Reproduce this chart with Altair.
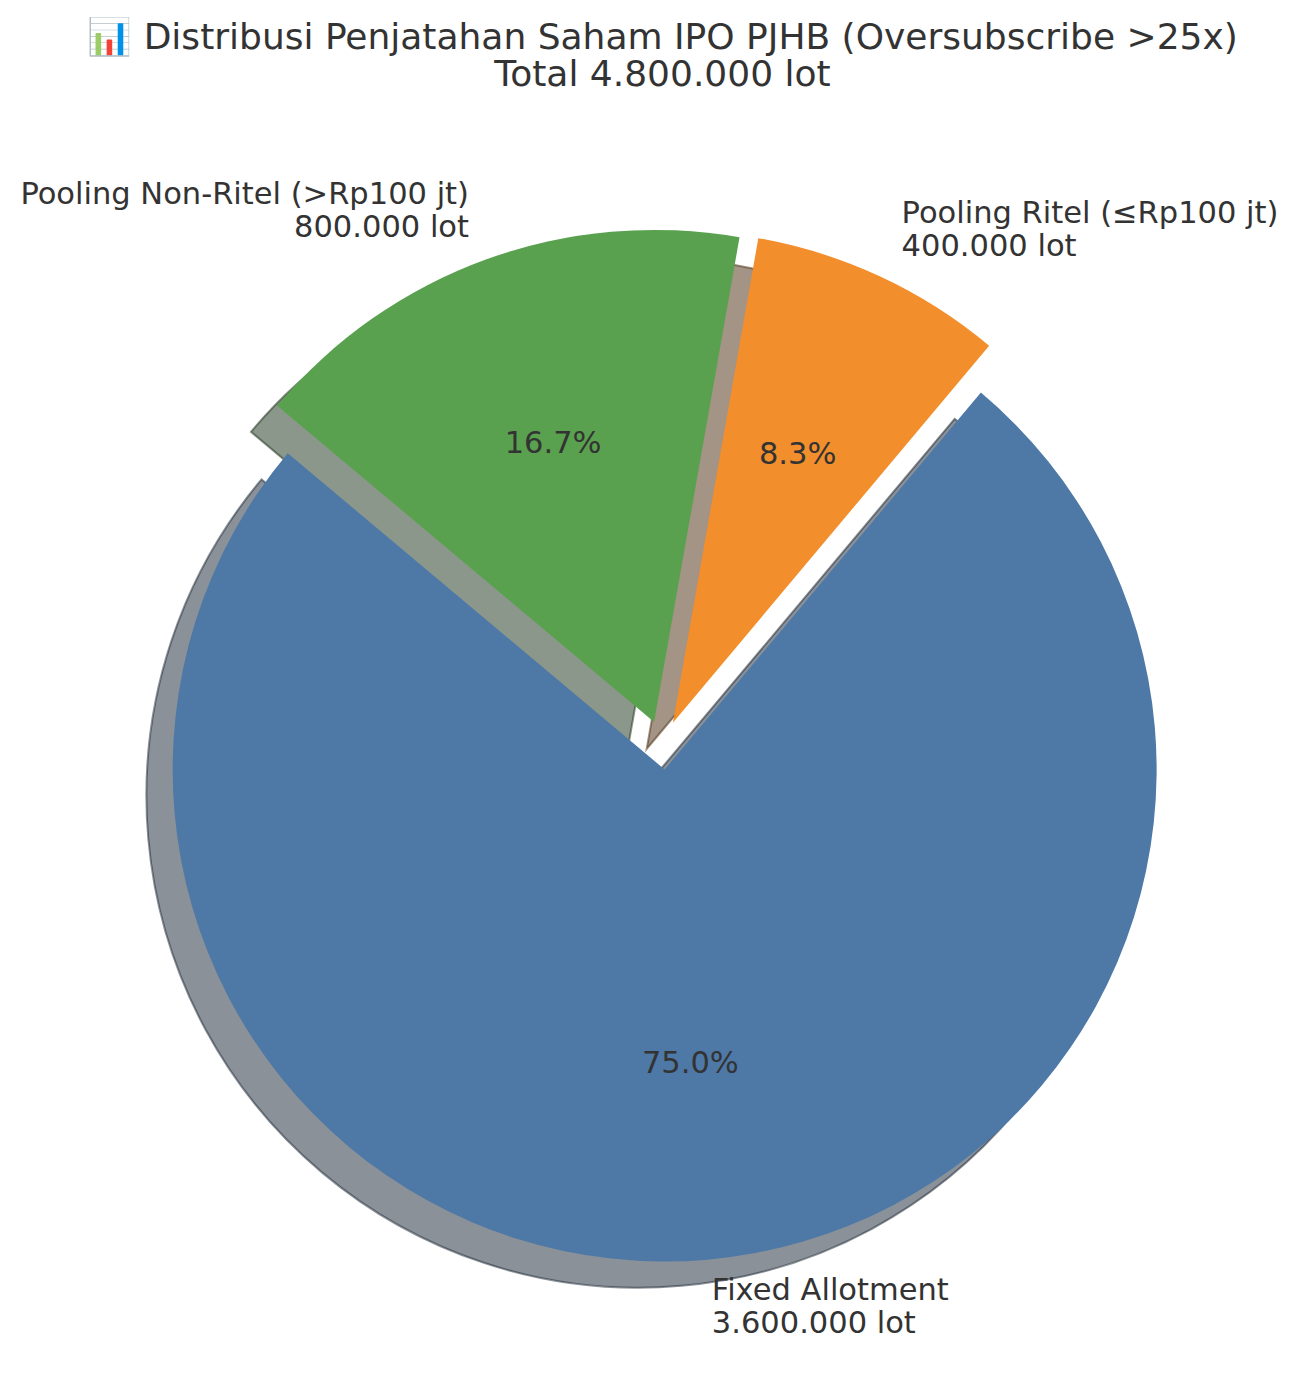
import altair as alt
import pandas as pd

# ---- data ----
categories = ["Fixed Allotment", "Pooling Ritel (≤Rp100 jt)", "Pooling Non-Ritel (>Rp100 jt)"]
lots = [3600000, 400000, 800000]
lot_labels = ["3.600.000 lot", "400.000 lot", "800.000 lot"]
colors = ["#4e79a7", "#f28e2b", "#59a14f"]
explode = [0.05, 0.05, 0.05]
title_lines = ["📊 Distribusi Penjatahan Saham IPO PJHB (Oversubscribe >25x)",
               "Total 4.800.000 lot"]

# ---- layout / style ----
W, H = 1282, 1364          # plot area (autosize none, padding 0)
CX, CY, R = 654.5, 737.0, 492.0   # pie centre (px) and radius (px)
START_ANGLE = 140          # degrees, counter-clockwise from 3 o'clock
LABEL_DIST = 1.1
PCT_DIST = 0.6
SHADOW_OFF = -0.0533       # shadow shift (radius units), left & down
FONT = "DejaVu Sans"
TXT = "#333333"
LABEL_SIZE = 30.5
TITLE_SIZE = 36


def shade(hexcol, k=0.3):
    r, g, b = (int(hexcol[i:i + 2], 16) for i in (1, 3, 5))
    return "#%02x%02x%02x" % (int(r * k), int(g * k), int(b * k))


shadow_colors = [shade(c) for c in colors]

df = pd.DataFrame({
    "cat": categories,
    "lots": lots,
    "lot_label": lot_labels,
    "color": colors,
    "shadow": shadow_colors,
    "explode": explode,
    "order": list(range(len(categories))),
})

x_scale = alt.Scale(domain=[-CX / R, (W - CX) / R], nice=False, zero=False)
y_scale = alt.Scale(domain=[-(H - CY) / R, CY / R], nice=False, zero=False)

base = (
    alt.Chart(df)
    .transform_joinaggregate(total="sum(lots)")
    .transform_window(cum="sum(lots)", sort=[alt.SortField("order")])
    .transform_calculate(a0=f"{START_ANGLE} + 360*(datum.cum - datum.lots)/datum.total")
    .transform_calculate(a1=f"{START_ANGLE} + 360*datum.cum/datum.total")
    .transform_calculate(am="(datum.a0 + datum.a1)/2 * PI/180")
    .transform_calculate(t0="(90 - datum.a1) * PI/180")
    .transform_calculate(t1="(90 - datum.a0) * PI/180")
    .transform_calculate(cx="datum.explode*cos(datum.am)")
    .transform_calculate(cy="datum.explode*sin(datum.am)")
    .transform_calculate(sx=f"datum.cx + ({SHADOW_OFF})")
    .transform_calculate(sy=f"datum.cy + ({SHADOW_OFF})")
    .transform_calculate(lx=f"datum.cx + {LABEL_DIST}*cos(datum.am)")
    .transform_calculate(ly=f"datum.cy + {LABEL_DIST}*sin(datum.am)")
    .transform_calculate(px=f"datum.cx + {PCT_DIST}*cos(datum.am)")
    .transform_calculate(py=f"datum.cy + {PCT_DIST}*sin(datum.am)")
    .transform_calculate(pct="format(datum.lots/datum.total, '.1%')")
    .transform_calculate(label="datum.cat + '\\n' + datum.lot_label")
    .transform_calculate(right="cos(datum.am) >= 0 ? 1 : 0")
)

shadows = base.mark_arc(radius=R, fillOpacity=0.5, strokeOpacity=0.5, strokeWidth=2).encode(
    x=alt.X("sx:Q", scale=x_scale, axis=None),
    y=alt.Y("sy:Q", scale=y_scale, axis=None),
    theta=alt.Theta("t0:Q", scale=None, stack=False),
    theta2=alt.Theta2("t1:Q"),
    fill=alt.Fill("shadow:N", scale=None),
    stroke=alt.Stroke("shadow:N", scale=None),
)

wedges = base.mark_arc(radius=R).encode(
    x=alt.X("cx:Q", scale=x_scale, axis=None),
    y=alt.Y("cy:Q", scale=y_scale, axis=None),
    theta=alt.Theta("t0:Q", scale=None, stack=False),
    theta2=alt.Theta2("t1:Q"),
    fill=alt.Fill("color:N", scale=None),
)

pcts = base.mark_text(font=FONT, fontSize=LABEL_SIZE, color=TXT, align="center",
                      baseline="middle").encode(
    x=alt.X("px:Q", scale=x_scale, axis=None),
    y=alt.Y("py:Q", scale=y_scale, axis=None),
    text="pct:N",
)

labels_right = base.transform_filter("datum.right == 1").mark_text(
    font=FONT, fontSize=LABEL_SIZE, color=TXT, align="left", baseline="middle",
    lineBreak="\n", lineHeight=33, dy=-18).encode(
    x=alt.X("lx:Q", scale=x_scale, axis=None),
    y=alt.Y("ly:Q", scale=y_scale, axis=None),
    text="label:N",
)

labels_left = base.transform_filter("datum.right == 0").mark_text(
    font=FONT, fontSize=LABEL_SIZE, color=TXT, align="right", baseline="middle",
    lineBreak="\n", lineHeight=33, dy=-18).encode(
    x=alt.X("lx:Q", scale=x_scale, axis=None),
    y=alt.Y("ly:Q", scale=y_scale, axis=None),
    text="label:N",
)

title = alt.Chart(pd.DataFrame({"title": ["\n".join(title_lines)]})).mark_text(
    font=FONT, fontSize=TITLE_SIZE, color=TXT, align="center", baseline="middle",
    lineBreak="\n", lineHeight=37).encode(
    x=alt.value(CX),
    y=alt.value(30),
    text="title:N",
)

chart = alt.layer(shadows, wedges, pcts, labels_right, labels_left, title).properties(
    width=W, height=H, autosize=alt.AutoSizeParams(type="none"), padding=0,
    background="white",
).configure_view(stroke=None)

chart.save("out.html", embed_options={"renderer": "svg", "actions": False})
